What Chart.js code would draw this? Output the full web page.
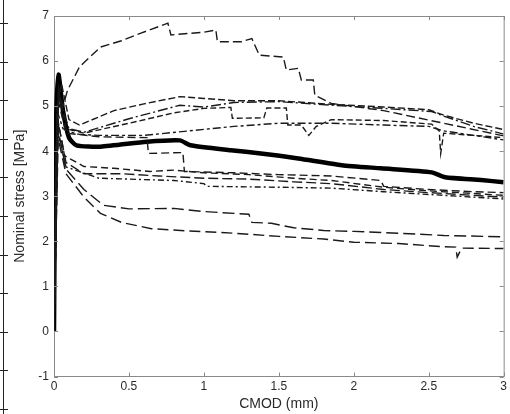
<!DOCTYPE html>
<html>
<head>
<meta charset="utf-8">
<script src="https://cdn.jsdelivr.net/npm/chart.js@4/dist/chart.umd.min.js"></script>
<style>
html, body { margin: 0; padding: 0; background: #fff; }
</style>
</head>
<body>
<canvas id="chart" width="510" height="414"></canvas>
<script>
// CMOD (mm) and nominal stress (MPa), one pair per specimen
const meanX = [0, 0.005, 0.015, 0.03, 0.06, 0.1, 0.15, 0.31, 0.62, 0.84, 0.91, 1.18, 1.38, 1.63, 1.92, 2.18, 2.52, 2.61, 2.85, 3.0];
const meanY = [0, 2.5, 4.8, 5.7, 4.9, 4.3, 4.13, 4.1, 4.21, 4.24, 4.13, 4.02, 3.95, 3.84, 3.69, 3.62, 3.53, 3.42, 3.36, 3.31];

const specAX = [0, 0.01, 0.03, 0.06, 0.09, 0.17, 0.31, 0.45, 0.58, 0.76, 0.78, 1.0, 1.08, 1.09, 1.25, 1.32, 1.37, 1.53, 1.55, 1.63, 1.65, 1.73, 1.74, 1.85, 2.2, 2.6, 3.0];
const specAY = [0, 3.5, 5.3, 5.0, 5.35, 5.87, 6.31, 6.45, 6.62, 6.84, 6.58, 6.64, 6.69, 6.43, 6.43, 6.5, 6.13, 6.09, 5.8, 5.84, 5.58, 5.58, 5.24, 5.06, 4.9, 4.62, 4.34];

const specBX = [0, 0.02, 0.05, 0.1, 0.17, 0.4, 0.6, 0.84, 1.0, 1.2, 1.5, 1.85, 2.2, 2.5, 2.6, 2.8, 3.0];
const specBY = [0, 5.0, 5.5, 4.7, 4.58, 4.9, 5.05, 5.21, 5.17, 5.12, 5.12, 5.04, 4.98, 4.92, 4.8, 4.62, 4.48];

const specCX = [0, 0.03, 0.1, 0.2, 0.5, 0.84, 1.0, 1.2, 1.5, 1.85, 2.2, 2.52, 2.6, 2.8, 3.0];
const specCY = [0, 5.2, 4.5, 4.42, 4.72, 5.02, 4.98, 5.08, 5.1, 5.02, 4.95, 4.88, 4.78, 4.55, 4.38];

const specDX = [0, 0.03, 0.08, 0.2, 0.5, 0.8, 1.0, 1.18, 1.19, 1.4, 1.42, 1.55, 1.56, 1.65, 1.7, 1.75, 1.85, 2.2, 2.52, 2.57, 2.58, 2.6, 3.0];
const specDY = [0, 5.4, 4.5, 4.4, 4.62, 4.85, 4.95, 4.97, 4.73, 4.74, 4.96, 4.96, 4.58, 4.58, 4.35, 4.55, 4.7, 4.68, 4.6, 4.45, 3.95, 4.4, 4.3];

const specEX = [0, 0.02, 0.06, 0.15, 0.3, 0.6, 0.9, 1.2, 1.5, 1.85, 2.2, 2.5, 2.6, 2.8, 3.0];
const specEY = [0, 4.9, 4.5, 4.38, 4.35, 4.35, 4.45, 4.55, 4.62, 4.62, 4.58, 4.55, 4.45, 4.35, 4.25];

const specFX = [0, 0.02, 0.07, 0.2, 0.4, 0.64, 0.8, 1.0, 1.3, 1.6, 1.85, 2.2, 2.5, 2.8, 3.0];
const specFY = [0, 4.8, 3.9, 3.66, 3.62, 3.55, 3.58, 3.52, 3.48, 3.4, 3.35, 3.2, 3.12, 3.06, 3.02];

const specGX = [0, 0.03, 0.08, 0.2, 0.45, 0.7, 1.0, 1.3, 1.6, 1.85, 2.2, 2.5, 2.8, 3.0];
const specGY = [0, 4.6, 3.75, 3.5, 3.5, 3.45, 3.4, 3.38, 3.32, 3.28, 3.15, 3.08, 3.02, 2.98];

const specHX = [0, 0.02, 0.08, 0.3, 0.8, 1.0, 1.02, 1.5, 1.85, 2.2, 2.6, 3.0];
const specHY = [0, 4.5, 3.65, 3.4, 3.35, 3.28, 3.22, 3.2, 3.18, 3.1, 3.02, 2.94];

const specIX = [0, 0.03, 0.08, 0.3, 0.62, 0.63, 0.86, 0.87, 1.2, 1.5, 1.85, 2.18, 2.2, 2.5, 2.8, 3.0];
const specIY = [0, 5.1, 4.4, 4.32, 4.3, 3.95, 3.97, 3.55, 3.52, 3.48, 3.45, 3.35, 3.22, 3.15, 3.1, 3.08];

const specJX = [0, 0.02, 0.08, 0.2, 0.33, 0.5, 0.8, 1.0, 1.3, 1.32, 1.45, 1.6, 1.8, 2.0, 2.3, 2.6, 3.0];
const specJY = [0, 4.6, 3.6, 3.15, 2.8, 2.72, 2.73, 2.66, 2.6, 2.42, 2.4, 2.3, 2.24, 2.22, 2.18, 2.13, 2.1];

const specKX = [0, 0.02, 0.08, 0.2, 0.31, 0.45, 0.65, 0.9, 1.2, 1.5, 1.8, 2.0, 2.3, 2.6, 2.68, 2.69, 2.72, 3.0];
const specKY = [0, 4.4, 3.5, 2.98, 2.62, 2.42, 2.28, 2.23, 2.18, 2.11, 2.05, 1.98, 1.95, 1.88, 1.87, 1.65, 1.85, 1.84];

const xTicks = [0, 0.5, 1, 1.5, 2, 2.5, 3];
const yTicks = [-1, 0, 1, 2, 3, 4, 5, 6, 7];

const pts = (xs, ys) => xs.map((v, i) => ({ x: v, y: ys[i] }));

const specimens = [
    [specAX, specAY, [9, 4]],
    [specBX, specBY, [7, 3]],
    [specCX, specCY, [10, 3, 2, 3]],
    [specDX, specDY, [6, 3]],
    [specEX, specEY, [8, 3, 3, 3]],
    [specFX, specFY, [7, 4]],
    [specGX, specGY, [10, 4]],
    [specHX, specHY, [6, 3, 2, 3]],
    [specIX, specIY, [8, 4]],
    [specJX, specJY, [12, 5]],
    [specKX, specKY, [11, 5]]
];

const datasets = specimens.map(s => ({
    data: pts(s[0], s[1]),
    borderColor: '#1a1a1a',
    borderWidth: 1.4,
    borderDash: s[2],
    pointRadius: 0,
    tension: 0
}));
datasets.push({
    data: pts(meanX, meanY),
    borderColor: '#000',
    borderWidth: 4.5,
    pointRadius: 0,
    tension: 0.2
});

// matlab style box: top/right edges plus inward ticks, and the edge of the next panel on the left
const frame = {
    id: 'frame',
    afterDraw(chart) {
        const { ctx, chartArea: a, scales: { x, y } } = chart;
        ctx.save();
        ctx.strokeStyle = '#8a8a8a';
        ctx.lineWidth = 1;
        ctx.beginPath();
        ctx.moveTo(a.left, a.top + 0.5); ctx.lineTo(a.right + 0.5, a.top + 0.5); ctx.lineTo(a.right + 0.5, a.bottom);
        xTicks.forEach(v => {
            const p = Math.round(x.getPixelForValue(v)) + 0.5;
            ctx.moveTo(p, a.bottom); ctx.lineTo(p, a.bottom - 4);
            ctx.moveTo(p, a.top); ctx.lineTo(p, a.top + 4);
        });
        yTicks.forEach(v => {
            const p = Math.round(y.getPixelForValue(v)) + 0.5;
            ctx.moveTo(a.left, p); ctx.lineTo(a.left + 4, p);
            ctx.moveTo(a.right, p); ctx.lineTo(a.right - 4, p);
        });
        ctx.stroke();

        ctx.strokeStyle = '#222';
        ctx.beginPath();
        ctx.moveTo(3.5, 0); ctx.lineTo(3.5, chart.height);
        for (let py = 23; py < chart.height; py += 38.6) {
            ctx.moveTo(0, Math.round(py) + 0.5); ctx.lineTo(8, Math.round(py) + 0.5);
        }
        ctx.stroke();
        ctx.restore();
    }
};

const tickFont = { family: 'Liberation Sans', size: 12 };
const titleFont = { family: 'Liberation Sans', size: 14 };

new Chart(document.getElementById('chart'), {
    type: 'line',
    data: { datasets },
    plugins: [frame],
    options: {
        responsive: false,
        animation: false,
        layout: { padding: { left: 12, right: 6, top: 16, bottom: 0 } },
        plugins: { legend: { display: false }, tooltip: { enabled: false } },
        scales: {
            x: {
                type: 'linear', min: 0, max: 3,
                afterBuildTicks: s => { s.ticks = xTicks.map(v => ({ value: v })); },
                afterFit: s => { s.height = 37.5; },
                grid: { display: false, drawTicks: false },
                border: { color: '#8a8a8a', width: 1 },
                ticks: { color: '#2a2a2a', padding: 3, font: tickFont, maxRotation: 0, callback: v => String(v) },
                title: { display: true, text: 'CMOD (mm)', color: '#2a2a2a', padding: { top: 0, bottom: 1 }, font: titleFont }
            },
            y: {
                type: 'linear', min: -1, max: 7,
                afterBuildTicks: s => { s.ticks = yTicks.map(v => ({ value: v })); },
                afterFit: s => { s.width = 42; },
                grid: { display: false, drawTicks: false },
                border: { color: '#8a8a8a', width: 1 },
                ticks: { color: '#2a2a2a', padding: 5, font: tickFont, callback: v => String(v) },
                title: { display: true, text: 'Nominal stress [MPa]', color: '#2a2a2a', padding: { top: 0, bottom: 2 }, font: titleFont }
            }
        }
    }
});
</script>
</body>
</html>
